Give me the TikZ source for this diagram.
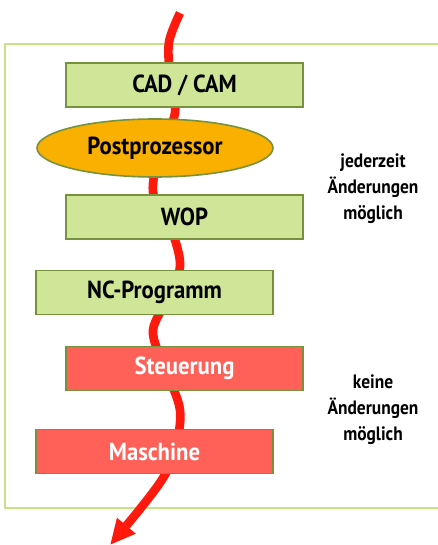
\documentclass[tikz,border=0pt]{standalone}
\usepackage{fontspec}
\setmainfont{PT Sans}
\newfontfamily\diafont[FakeStretch=0.92]{PT Sans}
\newfontfamily\notefont[FakeStretch=0.9]{PT Sans}
\usetikzlibrary{shapes.geometric,arrows.meta}
\definecolor{boxgreen}{HTML}{CFE597}
\definecolor{boxedge}{HTML}{76923C}
\definecolor{ellorange}{HTML}{F9B000}
\definecolor{boxred}{HTML}{FF6158}
\definecolor{flowred}{HTML}{FF1A0D}
\definecolor{framegreen}{HTML}{C8E385}
\begin{document}
\begin{tikzpicture}[x=0.75pt,y=-0.75pt,
  stepbox/.style={draw=boxedge,line width=1.2pt,minimum width=177.75pt,minimum height=33pt,inner sep=0pt,font=\diafont\bfseries\fontsize{18.5}{20}\selectfont},
  greenbox/.style={stepbox,fill=boxgreen,text=black},
  redbox/.style={stepbox,fill=boxred,text=white},
  ppell/.style={ellipse,draw=boxedge,line width=1.2pt,fill=ellorange,minimum width=177pt,minimum height=43.5pt,inner sep=0pt,font=\diafont\bfseries\fontsize{18.5}{20}\selectfont},
  sidenote/.style={align=center,font=\notefont\bfseries\fontsize{14.5}{19.5}\selectfont},
  flow/.style={draw=flowred,line width=6.5pt}
]
\useasboundingbox (0,0) rectangle (438,545);
\draw[framegreen,line width=1.3pt] (5,44) rectangle (450,508);
\coordinate (start) at (180,13);
\coordinate (tip) at (110,545);
\draw[flow,-{Triangle[length=19pt,width=17pt]}] plot[smooth,tension=0.55] coordinates {(start) (169,42) (170,75) (175,113) (160,150) (153,192) (168,220) (180,262) (172,292) (153,330) (165,368) (180,410) (175,451) (163,478) (140,509) (tip)};
\node[greenbox] (cad) at (184.5,85) {CAD / CAM};
\node[ppell] (pp) at (155,148) {Postprozessor};
\node[greenbox] (wop) at (184.5,217) {WOP};
\node[greenbox] (nc) at (154.5,292.5) {NC-Programm};
\node[redbox] (steu) at (184.5,368.5) {Steuerung};
\node[redbox] (masch) at (154.5,451.5) {Maschine};
\node[sidenote] (n1) at (373,189) {jederzeit\\Änderungen\\möglich};
\node[sidenote] (n2) at (373,410) {keine\\Änderungen\\möglich};
\end{tikzpicture}
\end{document}
